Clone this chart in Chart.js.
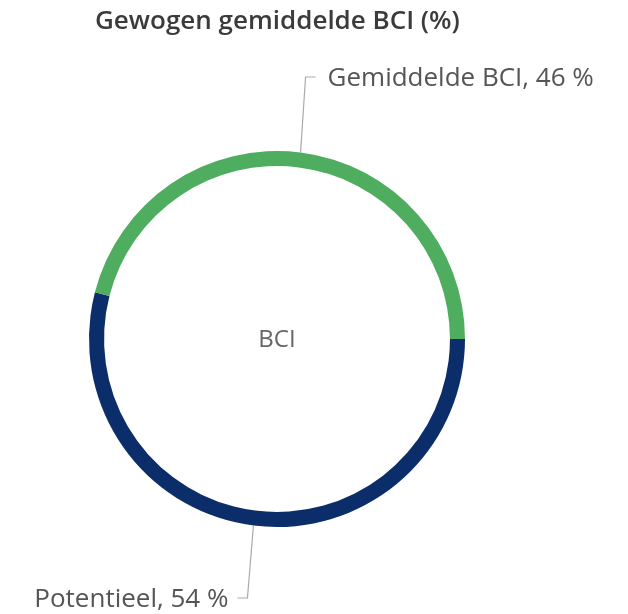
<!DOCTYPE html>
<html>
<head>
<meta charset="utf-8">
<script src="https://cdn.jsdelivr.net/npm/chart.js@4.4.0/dist/chart.umd.min.js"></script>
<style>
  html, body { margin: 0; padding: 0; background: #fff; }
  #wrap { width: 628px; height: 614px; position: relative; }
</style>
</head>
<body>
<div id="wrap"><canvas id="bci-chart"></canvas></div>
<script>
// data
const titel = 'Gewogen gemiddelde BCI (%)';
const centerText = 'BCI';
const labels = ['Potentieel', 'Gemiddelde BCI'];
const values = [54, 46];
const colors = ['#0b2d69', '#4fad60'];

// titel, middentekst en labels met lijntjes
const annotations = {
    id: 'annotations',
    afterDraw(chart) {
        const ctx = chart.ctx;
        const meta = chart.getDatasetMeta(0);
        const cx = meta.data[0].x;
        const cy = meta.data[0].y;
        const outer = meta.data[0].outerRadius;

        ctx.save();
        ctx.fillStyle = '#3b3b3b';
        ctx.font = '600 26px "Open Sans"';
        ctx.textBaseline = 'middle';
        ctx.textAlign = 'left';
        ctx.fillText(titel, 95, 22);

        ctx.fillStyle = '#666';
        ctx.font = '24px "Open Sans"';
        ctx.textAlign = 'center';
        ctx.fillText(centerText, cx, cy + 1);

        ctx.font = '26px "Open Sans"';
        ctx.strokeStyle = '#aaa';
        ctx.lineWidth = 1.2;
        meta.data.forEach((arc, i) => {
            const mid = (arc.startAngle + arc.endAngle) / 2;
            const x0 = cx + Math.cos(mid) * outer;
            const y0 = cy + Math.sin(mid) * outer;
            const up = y0 < cy;
            const yL = up ? 77 : 598;
            const x1 = x0 + (up ? 5 : -6);
            const x2 = x1 + (up ? 10 : -10);
            ctx.beginPath();
            ctx.moveTo(x0, y0);
            ctx.lineTo(x1, yL);
            ctx.lineTo(x2, yL);
            ctx.stroke();
            ctx.fillStyle = '#555';
            ctx.textAlign = up ? 'left' : 'right';
            ctx.fillText(`${labels[i]}, ${values[i]} %`, x2 + (up ? 12 : -9), yL + 2);
        });
        ctx.restore();
    }
};

new Chart(document.getElementById('bci-chart'), {
    type: 'doughnut',
    data: {
        labels,
        datasets: [{
            data: values,
            backgroundColor: colors,
            borderWidth: 0
        }]
    },
    options: {
        responsive: true,
        maintainAspectRatio: false,
        animation: false,
        rotation: 90,
        cutout: '92%',
        layout: { padding: { left: 89, right: 163, top: 151, bottom: 87 } },
        plugins: {
            legend: { display: false },
            tooltip: { enabled: false }
        }
    },
    plugins: [annotations]
});
</script>
</body>
</html>
